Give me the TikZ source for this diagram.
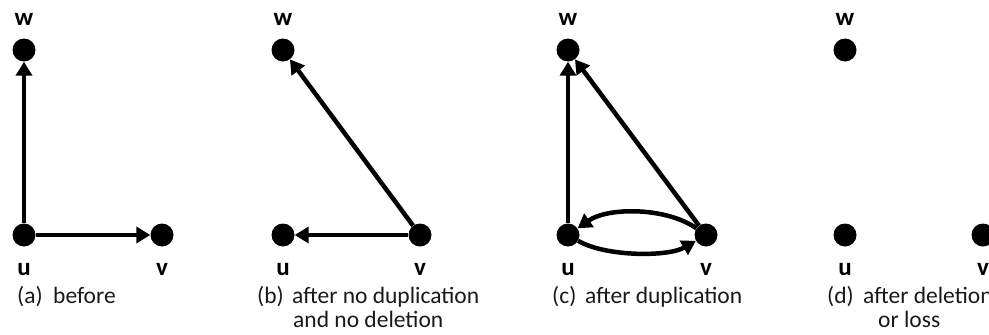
\documentclass[tikz,border=0pt]{standalone}
\usepackage{fontspec}
\setmainfont{Carlito}
\usetikzlibrary{arrows.meta}
\begin{document}
\begin{tikzpicture}[x=1pt,y=-1pt,
  dot/.style={circle,fill=black,inner sep=0pt,minimum size=23pt},
  lbl/.style={anchor=base,inner sep=0pt,font=\fontsize{25}{30}\selectfont\bfseries},
  captxt/.style={anchor=base west,inner sep=0pt,font=\fontsize{23.5}{28}\selectfont,text=black!90},
  arr/.style={line width=4.5pt,-{Triangle[length=14pt,width=16pt]}}]
\useasboundingbox (0,0) rectangle (989,335);
% panel a
\node[dot] (aw) at (24,50) {};
\node[dot] (au) at (24,235) {};
\node[dot] (av) at (162,235) {};
\node[lbl] (awl) at (24,25) {w};
\node[lbl] (aul) at (24,275) {u};
\node[lbl] (avl) at (162,275) {v};
\draw[arr] (au) -- (aw);
\draw[arr] (au) -- (av);
\node[captxt] (acl) at (17,303) {(a)};
\node[captxt] (act) at (53,303) {before};
% panel b
\node[dot] (bw) at (283,50) {};
\node[dot] (bu) at (283,235) {};
\node[dot] (bv) at (420,235) {};
\node[lbl] (bwl) at (283,25) {w};
\node[lbl] (bul) at (283,275) {u};
\node[lbl] (bvl) at (420,275) {v};
\draw[arr] (bv) -- (bw);
\draw[arr] (bv) -- (bu);
\node[captxt] (bcl) at (257,303) {(b)};
\node[captxt] (bct) at (292,303) {after no duplication};
\node[captxt] (bct2) at (293,327) {and no deletion};
% panel c
\node[dot] (cw) at (568,50) {};
\node[dot] (cu) at (568,235) {};
\node[dot] (cv) at (706,235) {};
\node[lbl] (cwl) at (568,25) {w};
\node[lbl] (cul) at (568,275) {u};
\node[lbl] (cvl) at (706,275) {v};
\draw[arr] (cu) -- (cw);
\draw[arr] (cv) -- (cw);
\draw[arr] (cv) to[out=145,in=35,looseness=0.8] (cu);
\draw[arr] (cu) to[out=-30,in=210,looseness=0.7] (cv);
\node[captxt] (ccl) at (552,303) {(c)};
\node[captxt] (cct) at (585,303) {after duplication};
% panel d
\node[dot] (dw) at (845,50) {};
\node[dot] (du) at (845,235) {};
\node[dot] (dv) at (983,235) {};
\node[lbl] (dwl) at (845,25) {w};
\node[lbl] (dul) at (845,275) {u};
\node[lbl] (dvl) at (983,275) {v};
\node[captxt] (dcl) at (827,303) {(d)};
\node[captxt] (dct) at (863,303) {after deletion};
\node[captxt] (dct2) at (878,327) {or loss};
\end{tikzpicture}
\end{document}
